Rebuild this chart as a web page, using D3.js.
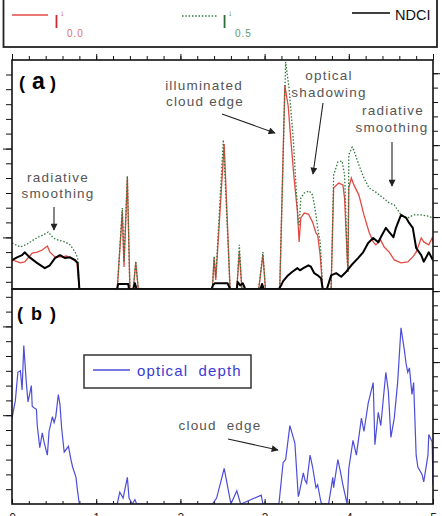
<!DOCTYPE html>
<html lang="en">
<head>
  <meta charset="UTF-8" />
  <title>Cloud edge radiances</title>
  <script src="https://d3js.org/d3.v7.min.js"></script>
  <style>
    body { margin: 0; background: #fff; }
    svg { display: block; }
    text { font-family: "Liberation Sans", Arial, sans-serif; white-space: pre; }
    .note { fill: #555; font-size: 13.5px; letter-spacing: 1.2px; text-anchor: middle; }
  </style>
</head>
<body>
  <svg width="442" height="516"></svg>

  <script>
    // ---- data (x along the cloud field) ----
    const xLabels = ["0", "1", "2", "3", "4", "5"];

    // I(0.0) radiance, left axis of panel (a)
    const i00 = [[0,9.7],[0.10,8.7],[0.15,9.0],[0.24,12.0],[0.30,12.3],[0.36,13.0],[0.42,14.3],[0.45,12.3],[0.51,10.7],
      [0.59,10.7],[0.65,11.0],[0.71,10.0],[0.77,9.0],[0.80,0],[1.25,0],[1.31,25.7],[1.33,7.3],[1.37,37],[1.40,0],
      [1.44,0],[1.47,8.7],[1.50,0],[2.38,0],[2.40,10.3],[2.42,3],[2.52,48.3],[2.59,0],[2.67,0],[2.70,12.3],[2.73,0],
      [2.93,0],[2.98,11.3],[3.01,0],[3.18,0],[3.24,68],[3.28,61],[3.31,50.3],[3.35,37],[3.39,25.7],[3.41,15.7],
      [3.43,23.7],[3.47,25.3],[3.52,25],[3.57,22.3],[3.61,18.7],[3.63,18],[3.66,11.3],[3.69,0],[3.79,0],[3.82,33.7],
      [3.88,35.3],[3.93,34.7],[3.95,30.3],[3.98,11.3],[3.99,5.7],[4.00,33.7],[4.03,37],[4.06,34.7],[4.12,31.3],
      [4.18,24.7],[4.24,19],[4.29,15.7],[4.32,14.7],[4.38,16.3],[4.42,14],[4.48,12.3],[4.54,9.7],[4.62,8.7],[4.70,9],
      [4.76,10.7],[4.80,12.3],[4.86,17],[4.89,15.7],[4.95,14.7],[4.99,17],[5.0,15.7]];

    // I(0.5) radiance, left axis of panel (a)
    const i05 = [[0,15.3],[0.10,14],[0.18,15],[0.25,16.3],[0.31,17.3],[0.37,18],[0.43,19],[0.49,17],[0.55,16.3],
      [0.63,15.7],[0.69,14.7],[0.75,12.3],[0.78,10.3],[0.80,0],[1.25,0],[1.31,27],[1.33,9],[1.37,37.7],[1.40,0],
      [1.44,0],[1.47,9.3],[1.50,0],[2.38,0],[2.40,11],[2.42,4],[2.51,49.7],[2.59,0],[2.67,0],[2.70,14.7],[2.73,0],
      [2.93,0],[2.98,12.3],[3.01,0],[3.18,0],[3.25,75.7],[3.29,67],[3.34,50.3],[3.37,35.7],[3.40,22.3],[3.41,21.3],
      [3.43,30.3],[3.47,32],[3.53,32.7],[3.57,31.3],[3.61,24.7],[3.63,20.3],[3.66,15.7],[3.69,0],[3.79,0],[3.82,38],
      [3.87,42.3],[3.92,42.7],[3.95,38],[3.98,11.3],[3.99,5.7],[4.00,44.7],[4.04,47.3],[4.06,46.3],[4.12,41.3],
      [4.18,37],[4.24,33.7],[4.32,32.3],[4.41,30.3],[4.48,28.7],[4.54,28],[4.62,24.7],[4.70,23.7],[4.77,24.7],
      [4.86,24.7],[4.94,24.3],[5.0,23.7]];

    // NDCI, right axis of panel (a)
    const ndci = [[0,0.040],[0.06,0.044],[0.12,0.047],[0.15,0.051],[0.21,0.044],[0.30,0.036],[0.39,0.029],[0.45,0.033],
      [0.51,0.043],[0.57,0.047],[0.63,0.043],[0.69,0.044],[0.75,0.040],[0.78,0.036],[0.80,0],[1.25,0],[1.26,0.007],
      [1.38,0.007],[1.39,0],[1.44,0],[1.46,0.008],[1.48,0],[2.37,0],[2.39,0.006],[2.41,0.008],[2.56,0.008],[2.59,0],
      [2.67,0],[2.68,0.010],[2.71,0.005],[2.74,0.008],[2.77,0],[2.95,0],[2.97,0.007],[2.99,0],[3.17,0],[3.20,0.006],
      [3.22,0.011],[3.27,0.018],[3.33,0.024],[3.39,0.029],[3.42,0.026],[3.46,0.029],[3.52,0.033],[3.55,0.031],
      [3.59,0.022],[3.63,0.019],[3.67,0.015],[3.69,0],[3.74,0],[3.79,0.019],[3.85,0.022],[3.91,0.017],[3.97,0.024],
      [4.03,0.033],[4.11,0.043],[4.17,0.051],[4.23,0.064],[4.29,0.071],[4.35,0.065],[4.38,0.072],[4.44,0.085],
      [4.48,0.079],[4.53,0.072],[4.56,0.085],[4.62,0.103],[4.68,0.099],[4.71,0.093],[4.76,0.085],[4.80,0.057],
      [4.86,0.047],[4.89,0.038],[4.95,0.051],[5.0,0.040]];

    // optical depth, panel (b)
    const tau = [[0,5.8],[0.04,7.0],[0.07,8.9],[0.10,9.0],[0.12,7.7],[0.14,10.7],[0.17,8.2],[0.19,6.9],[0.23,8.0],
      [0.24,6.6],[0.26,6.5],[0.29,6.4],[0.30,5.3],[0.33,3.8],[0.36,4.8],[0.38,4.2],[0.42,3.3],[0.44,4.9],[0.48,5.9],
      [0.50,5.5],[0.52,5.9],[0.55,7.4],[0.57,6.7],[0.59,5.1],[0.62,3.5],[0.67,3.9],[0.70,3.0],[0.72,2.5],[0.76,1.8],
      [0.78,0.8],[0.80,0],[1.25,0],[1.28,0.8],[1.32,0.4],[1.37,1.8],[1.39,0.4],[1.43,0],[1.46,0.3],[1.48,0],
      [2.38,0],[2.43,0.4],[2.52,2.4],[2.57,0.9],[2.60,0],[2.67,0.9],[2.71,0.1],[2.72,0],[2.96,0.6],[2.98,0],
      [3.17,0],[3.22,2.8],[3.25,3.0],[3.30,5.3],[3.34,4.5],[3.36,4.1],[3.40,0.5],[3.41,0.7],[3.46,2.1],[3.48,1.6],
      [3.50,1.4],[3.54,3.3],[3.57,2.5],[3.61,1.1],[3.63,1.3],[3.67,0.1],[3.69,0],[3.76,0],[3.81,1.8],[3.82,1.1],
      [3.87,3.0],[3.90,2.2],[3.93,1.3],[3.98,0],[4.00,2.4],[4.05,4.3],[4.09,3.3],[4.15,5.8],[4.18,4.9],[4.23,6.8],
      [4.29,8.2],[4.31,4.0],[4.35,6.2],[4.38,5.3],[4.44,8.9],[4.47,7.6],[4.50,4.5],[4.54,5.8],[4.58,8.2],[4.62,11.9],
      [4.66,10.4],[4.68,9.5],[4.70,8.9],[4.72,9.2],[4.75,7.4],[4.77,8.2],[4.80,3.3],[4.82,2.5],[4.87,2.0],[4.89,1.5],
      [4.94,3.3],[4.95,4.7],[4.99,4.2],[5.0,1.3]];

    // tick values
    const xMinor = d3.range(0, 5.001, 0.2);
    const xMajor = [0, 1, 2, 3, 4, 5];
    const aLeftMinor = [2.4, 7.4, 12.3, 17.2, 22.2, 27.1, 32, 37, 41.9, 46.8, 51.8, 56.7, 61.6, 66.6, 71.5];
    const aLeftMajor = [17.2, 46.8];
    const aRightMinor = d3.range(0.02, 0.31, 0.02);
    const aRightMajor = [0.1, 0.2, 0.3];
    const bLeftMinor = d3.range(1, 15, 1);
    const bLeftMajor = [6, 12];
    const bRightMinor = d3.range(0.2, 3.01, 0.2);
    const bRightMajor = [1, 2, 3];

    const svg = d3.select("svg");
    const L = 12, R = 433, topA = 60, mid = 289, botB = 504;

    const x = d3.scaleLinear().domain([0, 5]).range([L, R]);
    const yA = d3.scaleLinear().domain([0, 76]).range([mid, 61]);
    const yN = d3.scaleLinear().domain([0, 0.317]).range([mid, 61]);
    const yT = d3.scaleLinear().domain([0, 14.5]).range([botB, 289.4]);
    const yB2 = d3.scaleLinear().domain([0, 3.03]).range([botB, mid]);

    // clip paths for the two panels
    const defs = svg.append("defs");
    defs.append("clipPath").attr("id", "clipA").append("rect")
      .attr("x", L).attr("y", topA).attr("width", R - L).attr("height", mid - topA);
    defs.append("clipPath").attr("id", "clipB").append("rect")
      .attr("x", L).attr("y", mid).attr("width", R - L).attr("height", botB - mid);
    defs.append("marker").attr("id", "arr").attr("viewBox", "0 0 10 10")
      .attr("refX", 9).attr("refY", 5).attr("markerWidth", 8).attr("markerHeight", 7)
      .attr("markerUnits", "userSpaceOnUse").attr("orient", "auto")
      .append("path").attr("d", "M0,0L10,5L0,10z").attr("fill", "#222");

    // draws a tick-only axis (no domain line)
    function ticks(axis, transform, values, size, labels) {
      const g = svg.append("g").attr("transform", transform)
        .call(axis.tickValues(values).tickSize(size).tickFormat(labels || (() => "")));
      g.select(".domain").remove();
      g.selectAll("line").attr("stroke", "#111").attr("stroke-width", 1);
      return g;
    }

    ticks(d3.axisTop(x), `translate(0,${topA})`, xMinor, 4);
    ticks(d3.axisTop(x), `translate(0,${topA})`, xMajor, 6);
    ticks(d3.axisLeft(yA), `translate(${L},0)`, aLeftMinor, 6);
    ticks(d3.axisLeft(yA), `translate(${L},0)`, aLeftMajor, 9);
    ticks(d3.axisRight(yN), `translate(${R},0)`, aRightMinor, 5);
    ticks(d3.axisRight(yN), `translate(${R},0)`, aRightMajor, 7);
    ticks(d3.axisLeft(yT), `translate(${L},0)`, bLeftMinor, 6);
    ticks(d3.axisLeft(yT), `translate(${L},0)`, bLeftMajor, 9);
    ticks(d3.axisRight(yB2), `translate(${R},0)`, bRightMinor, 5);
    ticks(d3.axisRight(yB2), `translate(${R},0)`, bRightMajor, 7);
    ticks(d3.axisBottom(x), `translate(0,${botB})`, xMinor, -3);
    const bx = ticks(d3.axisBottom(x), `translate(0,${botB})`, xMajor, -5, (d, i) => xLabels[i]);
    bx.selectAll("text").attr("y", 9).attr("font-size", 12).attr("fill", "#222")
      .attr("font-family", "Liberation Sans, Arial, sans-serif");

    // series
    const lineA = d3.line().x(d => x(d[0])).y(d => yA(d[1]));
    const lineN = d3.line().x(d => x(d[0])).y(d => yN(d[1]));
    const lineT = d3.line().x(d => x(d[0])).y(d => yT(d[1]));

    const ga = svg.append("g").attr("clip-path", "url(#clipA)");
    ga.append("path").attr("d", lineA(i00)).attr("fill", "none")
      .attr("stroke", "#e44a44").attr("stroke-width", 1.3);
    ga.append("path").attr("d", lineA(i05)).attr("fill", "none")
      .attr("stroke", "#2f7a3a").attr("stroke-width", 1.3).attr("stroke-dasharray", "1.5,1.8");
    ga.append("path").attr("d", lineN(ndci)).attr("fill", "none")
      .attr("stroke", "#000").attr("stroke-width", 2).attr("stroke-linejoin", "round");

    svg.append("g").attr("clip-path", "url(#clipB)")
      .append("path").attr("d", lineT(tau)).attr("fill", "none")
      .attr("stroke", "#4d4ddb").attr("stroke-width", 1.2);

    // frames
    svg.append("rect").attr("x", L).attr("y", topA).attr("width", R - L).attr("height", mid - topA)
      .attr("fill", "none").attr("stroke", "#111").attr("stroke-width", 1.6);
    svg.append("rect").attr("x", L).attr("y", mid).attr("width", R - L).attr("height", botB - mid)
      .attr("fill", "none").attr("stroke", "#111").attr("stroke-width", 1.6);

    // top legend box
    svg.append("rect").attr("x", 3.5).attr("y", -2).attr("width", 433.5).attr("height", 49)
      .attr("fill", "none").attr("stroke", "#222").attr("stroke-width", 1.8);
    svg.append("line").attr("x1", 12).attr("x2", 48).attr("y1", 15).attr("y2", 15)
      .attr("stroke", "#e44a44").attr("stroke-width", 1.5);
    svg.append("text").attr("x", 54).attr("y", 28).attr("font-size", 18).attr("fill", "#d22626").text("I");
    svg.append("text").attr("x", 60).attr("y", 16).attr("font-size", 8).attr("fill", "#d22626").text("↓");
    svg.append("text").attr("x", 67).attr("y", 37).attr("font-size", 10).attr("letter-spacing", 1)
      .attr("fill", "#e07070").text("0.0");
    svg.append("line").attr("x1", 182).attr("x2", 218).attr("y1", 16).attr("y2", 16)
      .attr("stroke", "#2f7a3a").attr("stroke-width", 1.3).attr("stroke-dasharray", "1.5,1.8");
    svg.append("text").attr("x", 222).attr("y", 28).attr("font-size", 18).attr("fill", "#1f6f2a").text("I");
    svg.append("text").attr("x", 228).attr("y", 16).attr("font-size", 8).attr("fill", "#1f6f2a").text("↓");
    svg.append("text").attr("x", 235).attr("y", 37).attr("font-size", 10).attr("letter-spacing", 1)
      .attr("fill", "#5b9a70").text("0.5");
    svg.append("line").attr("x1", 352).attr("x2", 390).attr("y1", 13).attr("y2", 13)
      .attr("stroke", "#000").attr("stroke-width", 1.5);
    svg.append("text").attr("x", 395).attr("y", 20).attr("font-size", 14.5).attr("fill", "#111").text("NDCI");

    // panel labels
    svg.append("text").attr("x", 19).attr("y", 89).attr("font-size", 18).attr("font-weight", "bold").text("(");
    svg.append("text").attr("x", 32).attr("y", 89).attr("font-size", 23).attr("font-weight", "bold").text("a");
    svg.append("text").attr("x", 50).attr("y", 89).attr("font-size", 18).attr("font-weight", "bold").text(")");
    svg.append("text").attr("x", 17).attr("y", 320).attr("font-size", 18).attr("font-weight", "bold").text("(");
    svg.append("text").attr("x", 31).attr("y", 320).attr("font-size", 18).attr("font-weight", "bold").text("b");
    svg.append("text").attr("x", 50).attr("y", 320).attr("font-size", 18).attr("font-weight", "bold").text(")");

    // annotations
    const notes = [
      ["radiative", 58, 182], ["smoothing", 58, 198],
      ["illuminated", 204, 90], ["cloud edge", 205, 106],
      ["optical", 329, 80], ["shadowing", 329, 97],
      ["radiative", 393, 115], ["smoothing", 392, 132]
    ];
    svg.selectAll("text.note").data(notes).enter().append("text").attr("class", "note")
      .attr("x", d => d[1]).attr("y", d => d[2]).text(d => d[0]);
    svg.append("text").attr("class", "note").attr("letter-spacing", 0.5)
      .attr("x", 220).attr("y", 430).text("cloud  edge");

    const arrows = [[54, 207, 54, 230], [222, 114, 275, 133], [323, 103, 313, 174],
      [392, 142, 392, 186], [228, 439, 278, 450]];
    svg.selectAll("line.arrow").data(arrows).enter().append("line").attr("class", "arrow")
      .attr("x1", d => d[0]).attr("y1", d => d[1]).attr("x2", d => d[2]).attr("y2", d => d[3])
      .attr("stroke", "#222").attr("stroke-width", 1.1).attr("marker-end", "url(#arr)");

    // panel (b) legend
    svg.append("rect").attr("x", 84).attr("y", 355).attr("width", 167).attr("height", 33)
      .attr("fill", "#fff").attr("stroke", "#333").attr("stroke-width", 1.5);
    svg.append("line").attr("x1", 93).attr("x2", 130).attr("y1", 370).attr("y2", 370)
      .attr("stroke", "#4d4ddb").attr("stroke-width", 1.5);
    svg.append("text").attr("x", 137).attr("y", 376).attr("font-size", 15).attr("letter-spacing", 1.1)
      .attr("fill", "#3b3bd6").text("optical  depth");
  </script>
</body>
</html>
